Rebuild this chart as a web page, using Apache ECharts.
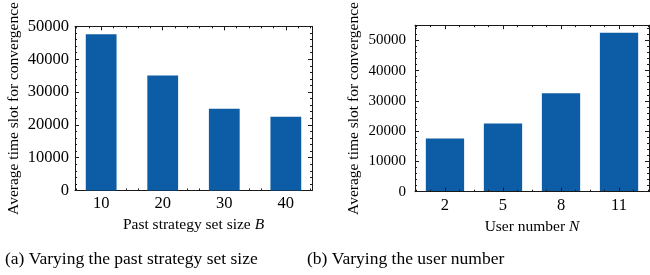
<!DOCTYPE html>
<html>
<head>
<meta charset="utf-8">
<title>convergence bars</title>
<script src="https://cdn.jsdelivr.net/npm/echarts@6/dist/echarts.min.js"></script>
</head>
<body style="margin:0;background:#fff">
<div id="chartmain" style="width:650px;height:275px;"></div>
<script type="text/javascript">
// data
var pastSizes = [10, 20, 30, 40];
var timeByPast = [47600, 35000, 24900, 22500];
var userNums = [2, 5, 8, 11];
var timeByUser = [17600, 22500, 32500, 52500];
var yTicksA = [0, 10000, 20000, 30000, 40000, 50000];
var yTicksB = [0, 10000, 20000, 30000, 40000, 50000];

var serif = 'Liberation Serif';
var ink = '#000';
var lineInk = '#1a1a1a';
var barColor = '#0C5DA5';

// minor tick positions: step out from the first major until the axis ends
function minorsOf(majors, step, lo, hi) {
    var out = [];
    var v = majors[0];
    while (v - step > lo) v -= step;
    for (; v < hi; v += step) {
        var r = Math.round(v * 1000) / 1000;
        if (r > lo && majors.indexOf(r) < 0) out.push(r);
    }
    return out;
}

// one axis line: main (with labels) / minor / mirrored copies
function oneAxis(gi, pos, lo, hi, vals, len, showLine, z) {
    return {
        type: 'value', gridIndex: gi, position: pos, min: lo, max: hi, z: z,
        axisLine: { show: showLine, onZero: false, lineStyle: { color: lineInk, width: 1 } },
        axisTick: { show: true, inside: true, length: len, customValues: vals, lineStyle: { color: lineInk, width: 1 } },
        axisLabel: { show: false },
        splitLine: { show: false }
    };
}

function axesFor(gi, pos, mirror, lo, hi, majors, step, z) {
    var minors = minorsOf(majors, step, lo, hi);
    return [
        oneAxis(gi, pos, lo, hi, majors, 4, true, z),
        oneAxis(gi, pos, lo, hi, minors, 2, false, z),
        oneAxis(gi, mirror, lo, hi, majors, 4, true, z),
        oneAxis(gi, mirror, lo, hi, minors, 2, false, z)
    ];
}

function withLabels(ax, majors, margin, fs) {
    ax.axisLabel = {
        show: true, customValues: majors, margin: margin,
        fontFamily: serif, fontSize: fs, color: ink,
        formatter: function (v) { return String(v); }
    };
    return ax;
}

function withName(ax, name, gap) {
    ax.name = name;
    ax.nameLocation = 'middle';
    ax.nameGap = gap;
    ax.nameTextStyle = {
        fontFamily: serif, fontSize: 15.5, color: ink,
        rich: { i: { fontFamily: serif, fontSize: 15.5, fontStyle: 'italic', color: ink } }
    };
    return ax;
}

var xA = axesFor(0, 'bottom', 'top', 5.75, 44.25, pastSizes, 2, 0);
var yA = axesFor(0, 'left', 'right', 0, 50000, yTicksA, 2000, 0);
var xB = axesFor(1, 'bottom', 'top', 0.45, 12.55, userNums, 0.75, 3);
var yB = axesFor(1, 'left', 'right', 0, 55000, yTicksB, 2000, 3);

withName(withLabels(xA[0], pastSizes, 5, 16.5), 'Past strategy set size {i|B}', 24);
withName(withLabels(yA[0], yTicksA, 6, 16.5), 'Average time slot for convergence', 53);
withName(withLabels(xB[0], userNums, 5, 16.5), 'User number {i|N}', 24);
withName(withLabels(yB[0], yTicksB, 9, 15), 'Average time slot for convergence', 53);

var myChart = echarts.init(document.getElementById('chartmain'));
myChart.setOption({
    animation: false,
    title: [
        { text: '(a) Varying the past strategy set size', left: 0, top: 245,
          textStyle: { fontFamily: serif, fontSize: 17.5, fontWeight: 'normal', color: ink } },
        { text: '(b) Varying the user number', left: 302, top: 245,
          textStyle: { fontFamily: serif, fontSize: 17.5, fontWeight: 'normal', color: ink } }
    ],
    grid: [
        { left: 75, top: 23, width: 237, height: 167.5 },
        { left: 415, top: 20.7, width: 234, height: 171 }
    ],
    xAxis: xA.concat(xB),
    yAxis: yA.concat(yB),
    series: [
        {
            type: 'bar', xAxisIndex: 0, yAxisIndex: 0, barWidth: '50%',
            itemStyle: { color: barColor },
            data: pastSizes.map(function (x, i) { return [x, timeByPast[i]]; })
        },
        {
            type: 'bar', xAxisIndex: 4, yAxisIndex: 4, barWidth: '66%',
            itemStyle: { color: barColor },
            data: userNums.map(function (x, i) { return [x, timeByUser[i]]; })
        }
    ]
});
</script>
</body>
</html>
